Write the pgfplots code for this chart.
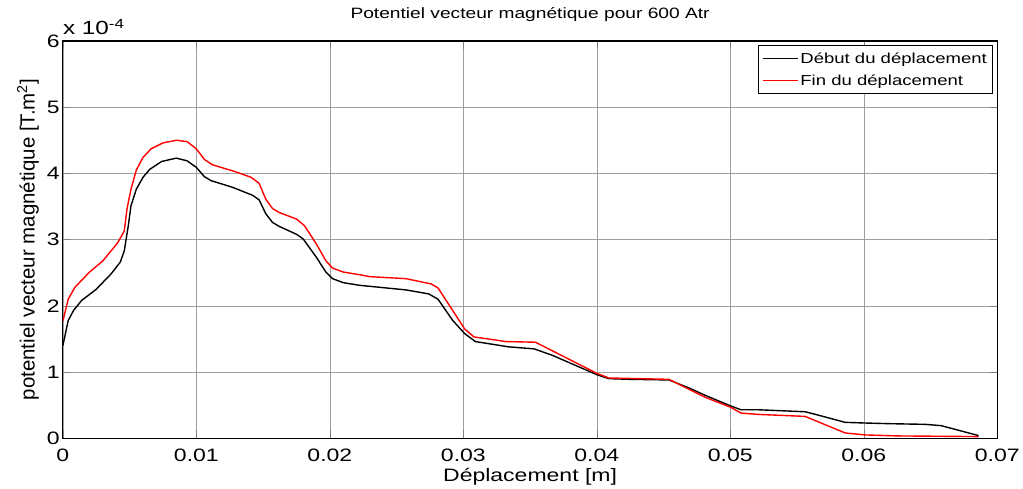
\documentclass[border=0pt]{standalone}
\usepackage{fontspec}
\setmainfont{Liberation Sans}[FakeStretch=1.28]
\newfontfamily\ylfont{Liberation Sans}
\usepackage{pgfplots}
\pgfplotsset{compat=1.18}
\begin{document}
\begin{tikzpicture}
\begin{axis}[
 scale only axis, width=936pt, height=398pt,
 xmin=0, xmax=0.07, ymin=0, ymax=6,
 xtick={0,0.01,0.02,0.03,0.04,0.05,0.06,0.07}, ytick={0,1,2,3,4,5,6},
 scaled x ticks=false,
 xticklabel style={/pgf/number format/fixed,/pgf/number format/precision=2,
   anchor=base, yshift=-23pt},
 yticklabel style={anchor=east, inner xsep=0pt, xshift=-3pt},
 /pgf/number format/assume math mode=true,
 tick label style={font=\fontsize{18}{18}\selectfont},
 grid=major, major grid style={gray!75, line width=0.6pt},
 tick align=inside, major tick length=8pt,
 axis line style={line width=1.2pt},
 title={Potentiel vecteur magnétique pour 600 Atr},
 title style={font=\fontsize{15}{15}\selectfont, at={(0.5,1)}, anchor=base, yshift=16pt},
 xlabel={Déplacement [m]},
 xlabel style={font=\fontsize{18}{18}\selectfont, at={(0.5,0)}, anchor=base, yshift=-43pt},
 ylabel={\ylfont potentiel vecteur magnétique [T.m\textsuperscript{2}]},
 ylabel style={font=\fontsize{20.5}{20.5}\selectfont, at={(axis description cs:-0.0374,0.5)}, anchor=center},
 legend style={at={(rel axis cs:1,1)}, anchor=north east, xshift=-4pt, yshift=-4pt,
   font=\fontsize{14.5}{14.5}\selectfont, draw=black, line width=0.9pt,
   nodes={inner ysep=5pt}, inner xsep=4pt,
   cells={anchor=west}},
 legend cell align=left,
 legend image code/.code={\draw[#1,line width=1.4pt] (0pt,0pt) -- (35pt,0pt);},
 every axis plot/.append style={line width=1.4pt},
]
% Début du déplacement (x 1e-4 T.m2)
\addplot[black] coordinates {
(0,1.40)(0.0004,1.78)(0.0008,1.93)(0.0014,2.08)(0.0025,2.25)(0.0036,2.48)
(0.0043,2.66)(0.0046,2.83)(0.0049,3.21)(0.0051,3.51)(0.0055,3.76)(0.0060,3.94)
(0.0065,4.06)(0.0074,4.18)(0.0085,4.23)(0.0093,4.19)(0.0100,4.09)(0.0106,3.95)
(0.0111,3.89)(0.0127,3.79)(0.0142,3.67)(0.0147,3.60)(0.0152,3.39)(0.0157,3.26)
(0.0162,3.20)(0.0175,3.08)(0.0180,3.01)(0.0190,2.73)(0.0197,2.51)(0.0202,2.41)
(0.0210,2.35)(0.0222,2.31)(0.0232,2.29)(0.0257,2.24)(0.0274,2.18)(0.0281,2.10)
(0.0292,1.78)(0.0301,1.58)(0.0309,1.46)(0.0334,1.38)(0.0353,1.35)(0.0367,1.25)
(0.0400,0.96)(0.0409,0.90)(0.0424,0.89)(0.0454,0.88)(0.0469,0.76)(0.0481,0.65)
(0.0500,0.49)(0.0508,0.43)(0.0521,0.43)(0.0556,0.40)(0.0562,0.37)(0.0586,0.24)
(0.0601,0.23)(0.0619,0.22)(0.0646,0.21)(0.0658,0.19)(0.0686,0.04)
};
% Fin du déplacement
\addplot[red] coordinates {
(0,1.77)(0.0004,2.10)(0.0009,2.28)(0.0020,2.51)(0.0030,2.68)(0.0041,2.95)
(0.0046,3.13)(0.0048,3.46)(0.0051,3.76)(0.0055,4.05)(0.0060,4.24)(0.0066,4.37)
(0.0075,4.46)(0.0085,4.50)(0.0093,4.48)(0.0100,4.37)(0.0106,4.21)(0.0112,4.13)
(0.0130,4.02)(0.0141,3.94)(0.0147,3.85)(0.0152,3.61)(0.0157,3.47)(0.0162,3.41)
(0.0175,3.31)(0.0181,3.21)(0.0190,2.93)(0.0197,2.68)(0.0202,2.57)(0.0210,2.51)
(0.0222,2.47)(0.0230,2.44)(0.0257,2.41)(0.0276,2.33)(0.0281,2.27)(0.0292,1.93)
(0.0301,1.65)(0.0308,1.53)(0.0332,1.46)(0.0354,1.45)(0.0400,0.98)(0.0409,0.91)
(0.0454,0.89)(0.0481,0.62)(0.0500,0.47)(0.0508,0.38)(0.0521,0.36)(0.0556,0.33)
(0.0586,0.08)(0.0601,0.05)(0.0626,0.035)(0.0686,0.025)
};
\legend{Début du déplacement, Fin du déplacement}
\end{axis}
\node[anchor=base west, inner sep=0pt, font=\fontsize{19}{19}\selectfont]
  at ([yshift=6pt]current axis.north west) {x 10\textsuperscript{-4}};
\path ([xshift=-63pt,yshift=-49pt]current axis.south west)
  rectangle ([xshift=24pt,yshift=41pt]current axis.north east);
\end{tikzpicture}
\end{document}
